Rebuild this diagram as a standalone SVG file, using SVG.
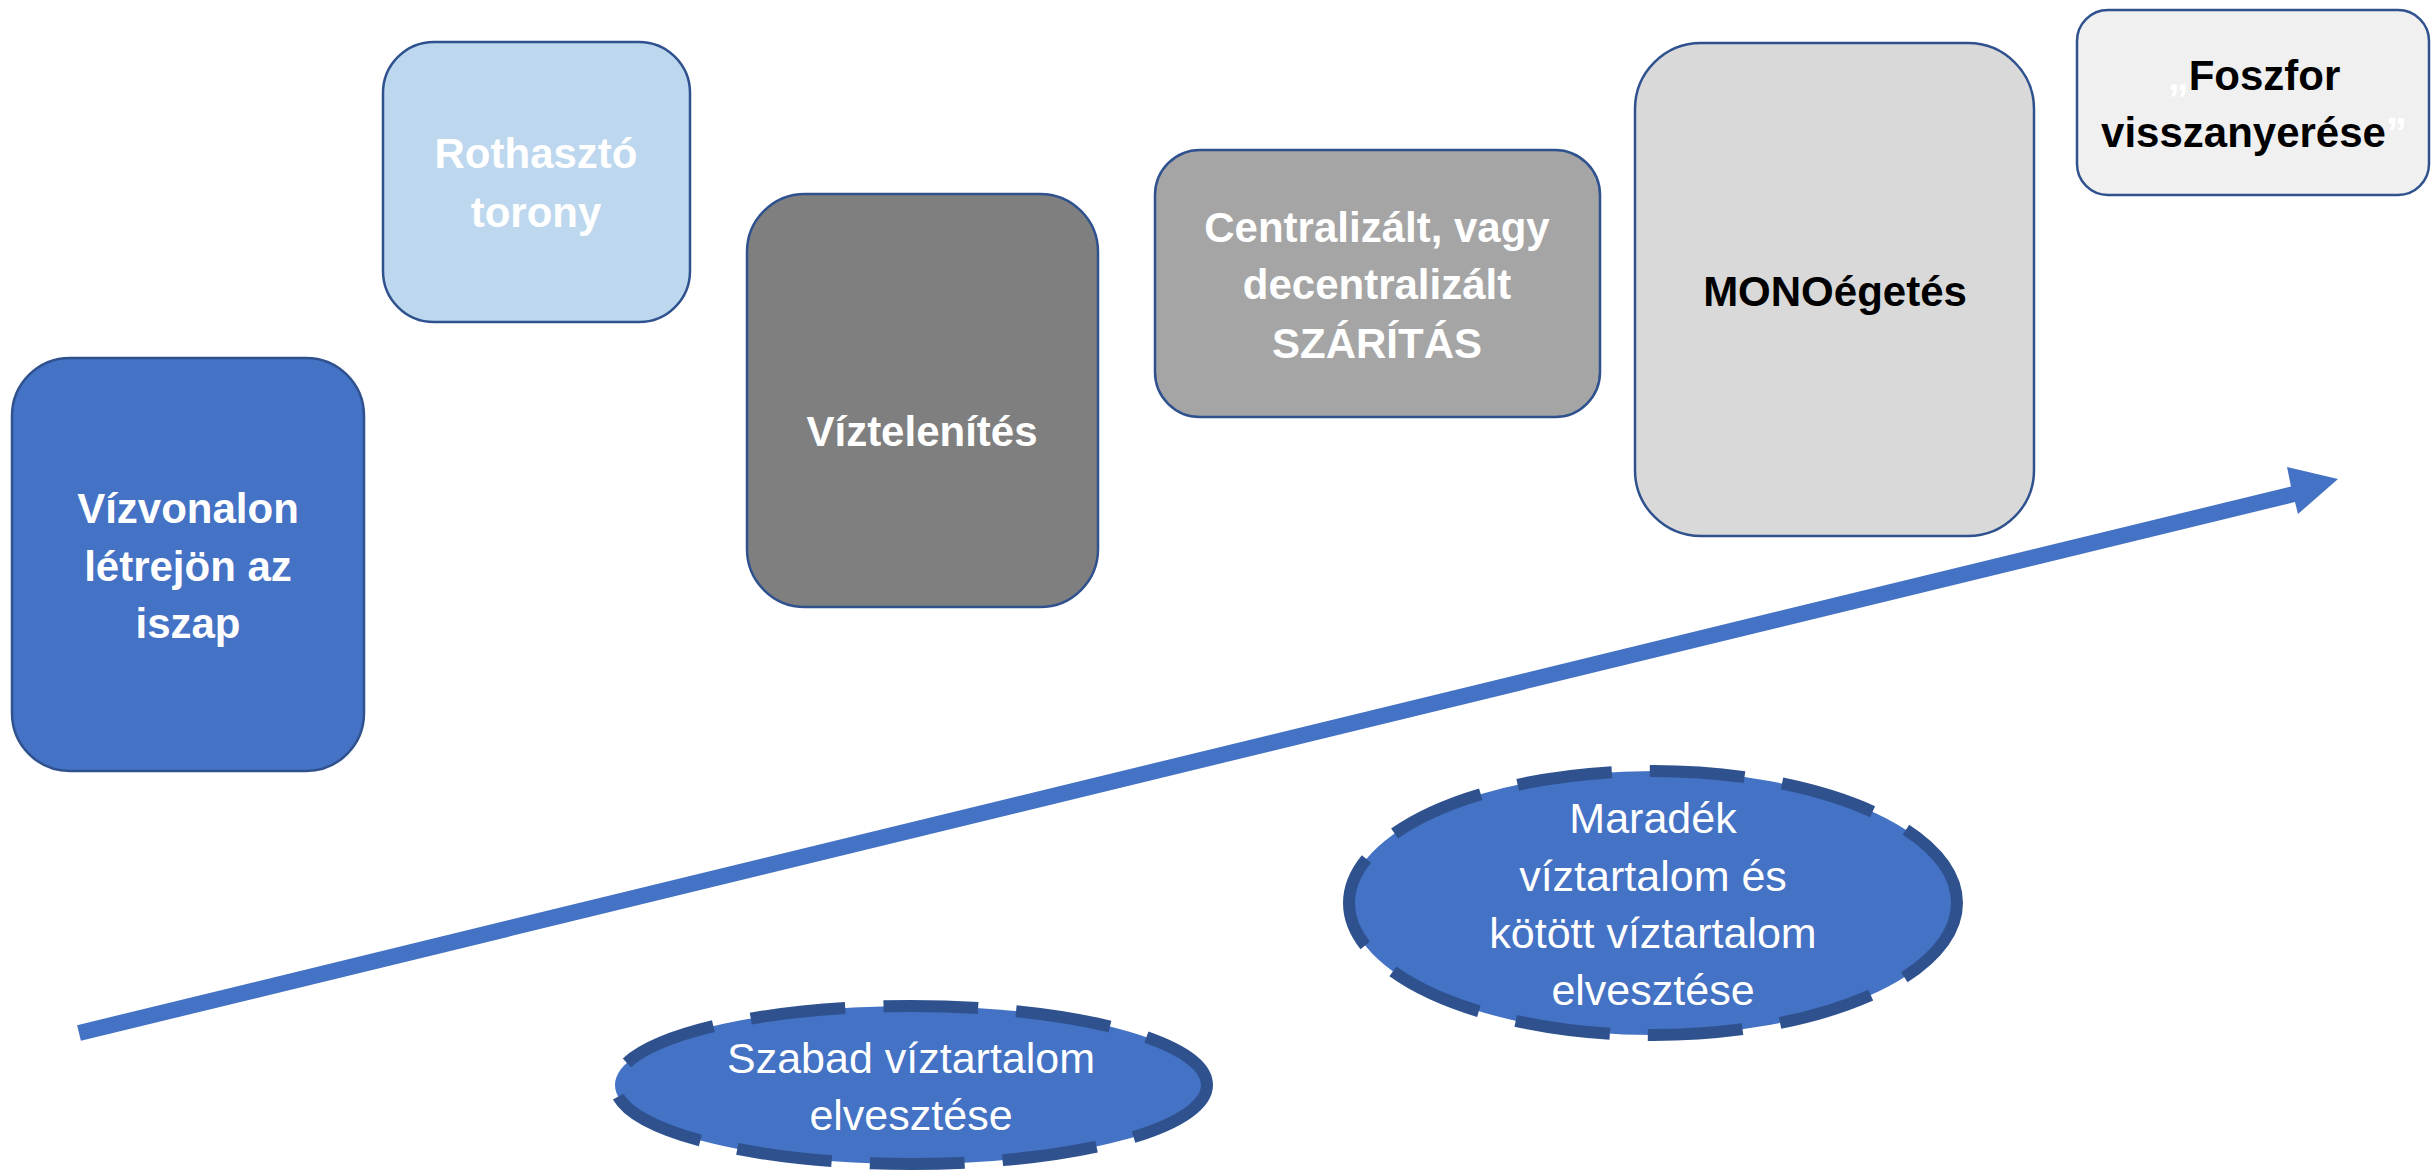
<svg xmlns="http://www.w3.org/2000/svg" width="2432" height="1172" viewBox="0 0 2432 1172">
  <style>
    .box { stroke: #2F528F; stroke-width: 2.5; }
    .oval { fill: #4472C4; stroke: #2F528F; stroke-width: 12; stroke-dasharray: 95 38; }
    .bt { font-family: "Liberation Sans", Arial, sans-serif; font-weight: bold; font-size: 42px; text-anchor: middle; }
    .rt { font-family: "Liberation Sans", Arial, sans-serif; font-size: 43px; text-anchor: middle; fill: #FFFFFF; }
    .w { fill: #FFFFFF; }
    .k { fill: #000000; }
  </style>
  <rect width="2432" height="1172" fill="#FFFFFF"/>

  <g id="connectors">
    <polygon id="progress-arrow" fill="#4472C4" points="80.9,1040.8 2295,502 2298,514 2338,479 2287,467 2291,486.5 77.1,1025.2"/>
  </g>

  <g id="node-vizvonal">
    <rect class="box" x="12" y="358" width="352" height="413" rx="58" ry="58" fill="#4472C4"/>
    <text class="bt w"><tspan x="188" y="523">Vízvonalon</tspan><tspan x="188" y="581">létrejön az</tspan><tspan x="188" y="638">iszap</tspan></text>
  </g>

  <g id="node-rothaszto">
    <rect class="box" x="383" y="42" width="307" height="280" rx="51" ry="51" fill="#BDD7EE"/>
    <text class="bt w"><tspan x="536" y="168">Rothasztó</tspan><tspan x="536" y="227">torony</tspan></text>
  </g>

  <g id="node-viztelenites">
    <rect class="box" x="747" y="194" width="351" height="413" rx="58" ry="58" fill="#7F7F7F"/>
    <text class="bt w" x="922" y="446">Víztelenítés</text>
  </g>

  <g id="node-szaritas">
    <rect class="box" x="1155" y="150" width="445" height="267" rx="45" ry="45" fill="#A5A5A5"/>
    <text class="bt w"><tspan x="1377" y="242">Centralizált, vagy</tspan><tspan x="1377" y="299">decentralizált</tspan><tspan x="1377" y="358">SZÁRÍTÁS</tspan></text>
  </g>

  <g id="node-monoegetes">
    <rect class="box" x="1635" y="43" width="399" height="493" rx="66" ry="66" fill="#D9D9D9"/>
    <text class="bt k" x="1835" y="306">MONOégetés</text>
  </g>

  <g id="node-foszfor">
    <rect class="box" x="2077" y="10" width="352" height="185" rx="31" ry="31" fill="#F0F0F0"/>
    <text class="bt"><tspan x="2254" y="90"><tspan class="w">„</tspan><tspan class="k">Foszfor</tspan></tspan><tspan x="2254" y="147"><tspan class="k">visszanyerése</tspan><tspan class="w">”</tspan></tspan></text>
  </g>

  <g id="node-szabad">
    <ellipse class="oval" cx="911" cy="1085" rx="296" ry="79"/>
    <text class="rt"><tspan x="911" y="1073">Szabad víztartalom</tspan><tspan x="911" y="1130">elvesztése</tspan></text>
  </g>

  <g id="node-maradek">
    <ellipse class="oval" cx="1653" cy="903" rx="304" ry="132"/>
    <text class="rt"><tspan x="1653" y="833">Maradék</tspan><tspan x="1653" y="891">víztartalom és</tspan><tspan x="1653" y="948">kötött víztartalom</tspan><tspan x="1653" y="1005">elvesztése</tspan></text>
  </g>
</svg>
